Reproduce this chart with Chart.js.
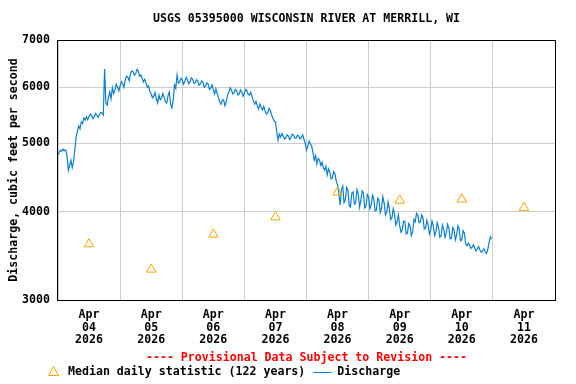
<!DOCTYPE html>
<html>
<head>
<meta charset="utf-8">
<script src="https://cdn.jsdelivr.net/npm/chart.js@4/dist/chart.umd.min.js"></script>
<style>
  html, body { margin: 0; padding: 0; background: #fff; }
  #wrap { width: 576px; height: 384px; position: relative; }
</style>
</head>
<body>
<div id="wrap"><canvas id="c" width="576" height="384"></canvas></div>
<script>
// ---- Data ----
const titleText = "USGS 05395000 WISCONSIN RIVER AT MERRILL, WI";
const yAxisTitle = "Discharge, cubic feet per second";
const provisionalText = "---- Provisional Data Subject to Revision ----";
const legendMedian = "Median daily statistic (122 years)";
const legendDischarge = "Discharge";

// x axis: hours since Apr 04 2026 00:00
const dayLabels = ["04", "05", "06", "07", "08", "09", "10", "11"];
const monthLabel = "Apr";
const yearLabel = "2026";
const yTicks = [3000, 4000, 5000, 6000, 7000];

// half-hourly discharge readings (cfs), starting Apr 04 00:00
const readingStepHours = 0.5;
const discharge = [
  4810, 4860, 4890, 4870, 4905, 4880, 4890, 4800, 4580, 4650, 4730, 4620,
  4700, 4900, 5100, 5200, 5290, 5240, 5360, 5330, 5430, 5390, 5450, 5400,
  5460, 5500, 5470, 5420, 5450, 5510, 5480, 5440, 5485, 5530, 5520, 5480,
  6370, 5700, 5660, 5800, 5910, 5780, 5990, 5880, 5950, 6060, 6010, 5930,
  6030, 6110, 6070, 6000, 6150, 6220, 6200, 6130, 6270, 6330, 6310, 6240,
  6270, 6360, 6330, 6220, 6250, 6180, 6105, 6160, 6085, 6000, 6030, 5920,
  5870, 5800, 5830, 5900, 5775, 5700, 5850, 5760, 5795, 5880, 5810, 5720,
  5700, 5840, 5910, 5680, 5610, 5750, 6045, 5980, 6250, 6080, 6105, 6180,
  6145, 6060, 6125, 6200, 6145, 6070, 6105, 6190, 6165, 6080, 6085, 6150,
  6125, 6040, 6065, 6130, 6105, 6000, 6025, 6090, 6065, 5960, 5990, 6050,
  5950, 5870, 5970, 5880, 5795, 5720, 5680, 5760, 5755, 5650, 5720, 5850,
  5910, 5990, 5950, 5870, 5890, 5960, 5930, 5850, 5870, 5950, 5910, 5830,
  5890, 5960, 5930, 5860, 5850, 5900, 5815, 5740, 5680, 5730, 5645, 5590,
  5680, 5620, 5570, 5640, 5555, 5500, 5520, 5600, 5570, 5480, 5430, 5380,
  5360, 5200, 5050, 5150, 5100, 5160, 5120, 5070, 5085, 5140, 5120, 5060,
  5100, 5150, 5135, 5080, 5085, 5130, 5120, 5070, 5100, 5140, 5070, 5000,
  4890, 4950, 5035, 4990, 4955, 4850, 4735, 4800, 4670, 4760, 4735, 4650,
  4700, 4620, 4580, 4640, 4510, 4600, 4555, 4450, 4465, 4560, 4525, 4420,
  4365, 4250, 4090, 4300, 4350, 4120, 4155, 4330, 4295, 4080, 4060, 4250,
  4265, 4100, 4115, 4300, 4240, 4060, 4155, 4280, 4250, 4050, 4075, 4230,
  4195, 4040, 4090, 4220, 4170, 4010, 4020, 4180, 4155, 3990, 4050, 4200,
  4115, 3960, 3995, 4130, 4035, 3900, 3920, 4040, 3970, 3830, 3870, 3960,
  3820, 3740, 3770, 3880, 3870, 3720, 3730, 3850, 3820, 3700, 3745, 3900,
  3870, 3980, 3955, 3860, 3870, 3960, 3920, 3780, 3795, 3890, 3830, 3720,
  3770, 3880, 3820, 3700, 3745, 3860, 3805, 3680, 3695, 3830, 3780, 3680,
  3730, 3840, 3795, 3660, 3670, 3800, 3770, 3650, 3710, 3820, 3780, 3640,
  3650, 3760, 3730, 3600, 3580, 3610, 3590, 3550, 3565, 3590, 3555, 3520,
  3545, 3570, 3530, 3505, 3520, 3545, 3510, 3490, 3530, 3610, 3685, 3660
];
// median daily statistic at noon of each day (Apr 04 .. Apr 11)
const medianDaily = [3600, 3315, 3715, 3930, 4260, 4150, 4165, 4055];

// ---- Build datasets ----
const dischargePoints = discharge.map((v, i) => ({ x: i * readingStepHours, y: v }));
const medianPoints = medianDaily.map((v, i) => ({ x: 12 + 24 * i, y: v }));

const FONT_FAMILY = "'DejaVu Sans Mono', 'Liberation Mono', monospace";
const FONT_SIZE = 11.6;
const FONT = `bold ${FONT_SIZE}px ${FONT_FAMILY}`;
const LINE_COLOR = '#0a7fcc';
const MEDIAN_COLOR = '#ffa500';
const GRID_COLOR = '#cccccc';

const deco = {
  id: 'deco',
  afterDraw(chart) {
    const { ctx, chartArea: a } = chart;
    ctx.save();
    // frame
    ctx.strokeStyle = '#000';
    ctx.lineWidth = 1;
    ctx.strokeRect(Math.round(a.left) - 0.5, Math.round(a.top) + 0.5,
      Math.round(a.right - a.left) + 1, Math.round(a.bottom - a.top));
    // title
    ctx.font = FONT;
    ctx.fillStyle = '#000';
    ctx.textAlign = 'center';
    ctx.textBaseline = 'middle';
    const cx = (a.left + a.right) / 2;
    ctx.fillText(titleText, cx, 19);
    // y axis title
    ctx.save();
    ctx.translate(14, (a.top + a.bottom) / 2);
    ctx.rotate(-Math.PI / 2);
    ctx.fillText(yAxisTitle, 0, 0);
    ctx.restore();
    // provisional
    ctx.fillStyle = '#ff0000';
    ctx.fillText(provisionalText, cx, 358);
    // legend
    const ly = 372;
    ctx.strokeStyle = MEDIAN_COLOR;
    ctx.beginPath();
    ctx.moveTo(53.5, ly - 5.5);
    ctx.lineTo(58.5, ly + 3.5);
    ctx.lineTo(48.5, ly + 3.5);
    ctx.closePath();
    ctx.stroke();
    ctx.fillStyle = '#000';
    ctx.textAlign = 'left';
    ctx.fillText(legendMedian, 68, ly);
    const w = ctx.measureText(legendMedian).width;
    const lx = 68 + w + 8;
    ctx.strokeStyle = LINE_COLOR;
    ctx.beginPath();
    ctx.moveTo(lx, ly + 0.5);
    ctx.lineTo(lx + 18, ly + 0.5);
    ctx.stroke();
    ctx.fillText(legendDischarge, lx + 24, ly);
    ctx.restore();
  }
};

new Chart(document.getElementById('c'), {
  type: 'scatter',
  data: {
    datasets: [
      {
        label: legendDischarge,
        data: dischargePoints,
        showLine: true,
        borderColor: LINE_COLOR,
        borderWidth: 1.2,
        pointRadius: 0,
        tension: 0,
        fill: false,
        order: 2
      },
      {
        label: legendMedian,
        data: medianPoints,
        showLine: false,
        pointStyle: 'triangle',
        pointRadius: 5.5,
        pointBorderColor: MEDIAN_COLOR,
        pointBackgroundColor: 'rgba(0,0,0,0)',
        pointBorderWidth: 1,
        borderColor: MEDIAN_COLOR,
        backgroundColor: 'rgba(0,0,0,0)',
        order: 1
      }
    ]
  },
  options: {
    responsive: false,
    animation: false,
    devicePixelRatio: 1,
    layout: { padding: { top: 40, left: 0, right: 21, bottom: 0 } },
    plugins: {
      legend: { display: false },
      title: { display: false },
      tooltip: { enabled: false }
    },
    scales: {
      x: {
        type: 'linear',
        min: 0,
        max: 192,
        afterFit(s) { s.height = 84; },
        afterBuildTicks(s) {
          const t = [];
          for (let h = 0; h <= 192; h += 12) t.push({ value: h });
          s.ticks = t;
        },
        border: { display: false },
        grid: {
          drawTicks: false,
          color: (c) => (c.tick && c.tick.value % 24 === 0) ? GRID_COLOR : 'rgba(0,0,0,0)',
          lineWidth: 1
        },
        ticks: {
          autoSkip: false,
          maxRotation: 0,
          minRotation: 0,
          padding: 8,
          color: '#000',
          font: { family: FONT_FAMILY, size: FONT_SIZE, weight: 'bold', lineHeight: 1.12 },
          callback(v) {
            if (v % 24 !== 12) return '';
            const idx = (v - 12) / 24;
            return [monthLabel, dayLabels[idx], yearLabel];
          }
        }
      },
      y: {
        type: 'logarithmic',
        min: 3000,
        max: 7000,
        afterFit(s) { s.width = 58; },
        afterBuildTicks(s) { s.ticks = yTicks.map(v => ({ value: v })); },
        border: { display: false },
        grid: { drawTicks: false, color: GRID_COLOR, lineWidth: 1 },
        ticks: {
          padding: 8,
          color: '#000',
          font: { family: FONT_FAMILY, size: FONT_SIZE, weight: 'bold' },
          callback(v) { return String(v); }
        }
      }
    }
  },
  plugins: [deco]
});
</script>
</body>
</html>
